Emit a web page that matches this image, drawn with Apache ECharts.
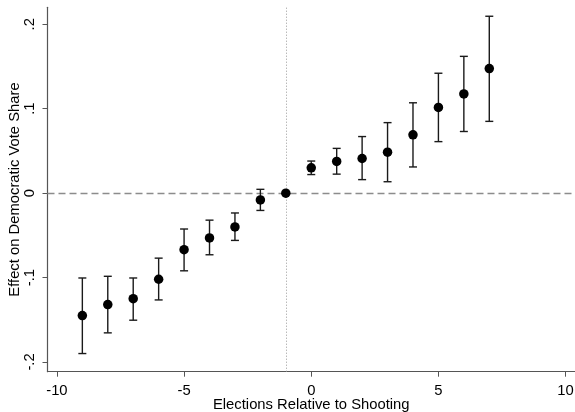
<!DOCTYPE html>
<html>
<head>
<meta charset="utf-8">
<script src="https://cdn.jsdelivr.net/npm/echarts@6/dist/echarts.min.js"></script>
<style>
html,body{margin:0;padding:0;background:#fff;}
#chart{width:575px;height:412px;}
</style>
</head>
<body>
<div id="chart"></div>
<script>
// Data
var elections = [-9, -8, -7, -6, -5, -4, -3, -2, -1, 0, 1, 2, 3, 4, 5, 6, 7];
var estimates = [-0.145, -0.132, -0.125, -0.102, -0.067, -0.053, -0.040, -0.008, 0.000, 0.030, 0.0375, 0.041, 0.0485, 0.069, 0.1015, 0.1175, 0.1475];
var ciLower  = [-0.190, -0.1655, -0.1505, -0.1265, -0.092, -0.073, -0.056, -0.0205, null, 0.022, 0.0225, 0.016, 0.0135, 0.031, 0.061, 0.073, 0.085];
var ciUpper  = [-0.1005, -0.0985, -0.1005, -0.077, -0.0425, -0.032, -0.0235, 0.0045, null, 0.038, 0.053, 0.067, 0.0835, 0.107, 0.142, 0.162, 0.2095];
var xTicks = [-10, -5, 0, 5, 10];
var yTicks = [-0.2, -0.1, 0, 0.1, 0.2];
var yTickLabels = ['-.2', '-.1', '0', '.1', '.2'];
var refX = -1;
var refY = 0;

var ciData = [];
for (var i = 0; i < elections.length; i++) {
  if (ciLower[i] !== null) ciData.push([elections[i], ciLower[i], ciUpper[i]]);
}
var pointData = elections.map(function (x, i) { return [x, estimates[i]]; });

var font = 'Liberation Sans, Arial, Helvetica, sans-serif';
var chart = echarts.init(document.getElementById('chart'), null, {renderer: 'canvas'});
chart.setOption({
  animation: false,
  backgroundColor: '#fff',
  grid: {left: 47.5, right: 0, top: 7.3, bottom: 40.3, containLabel: false, outerBoundsMode: 'none'},
  xAxis: {
    type: 'value',
    min: -10.37, max: 10.37,
    splitLine: {show: false},
    axisLine: {show: true, onZero: false, lineStyle: {color: '#555', width: 1.2}},
    axisTick: {show: true, length: 5, customValues: xTicks, lineStyle: {color: '#555', width: 1}},
    axisLabel: {customValues: xTicks, margin: 12, fontSize: 14.8, color: '#000', fontFamily: font,
      formatter: function (v) { return String(v); }},
    name: 'Elections Relative to Shooting',
    nameLocation: 'middle', nameGap: 26, nameMoveOverlap: false,
    nameTextStyle: {fontSize: 14.8, color: '#000', fontFamily: font}
  },
  yAxis: {
    type: 'value',
    min: -0.2115, max: 0.2201,
    splitLine: {show: false},
    axisLine: {show: true, onZero: false, lineStyle: {color: '#555', width: 1.2}},
    axisTick: {show: true, length: 5, customValues: yTicks, lineStyle: {color: '#555', width: 1}},
    axisLabel: {customValues: yTicks, rotate: 90, margin: 10, fontSize: 14.8, color: '#000', fontFamily: font,
      formatter: function (v) {
        var idx = yTicks.findIndex(function (t) { return Math.abs(t - v) < 1e-9; });
        return idx >= 0 ? yTickLabels[idx] : '';
      }},
    name: 'Effect on Democratic Vote Share',
    nameLocation: 'middle', nameGap: 25, nameRotate: 90, nameMoveOverlap: false,
    nameTextStyle: {fontSize: 14.8, color: '#000', fontFamily: font}
  },
  series: [
    {
      type: 'line', data: [], silent: true, z: 1,
      markLine: {
        symbol: 'none', silent: true, label: {show: false}, z: 1,
        data: [
          {yAxis: refY, lineStyle: {type: [7, 4], color: '#8c8c8c', width: 1.3}},
          {xAxis: refX, lineStyle: {type: [1, 2], color: '#999', width: 1}}
        ]
      }
    },
    {
      type: 'custom',
      data: ciData,
      renderItem: function (params, api) {
        var x = api.value(0);
        var lo = api.coord([x, api.value(1)]);
        var hi = api.coord([x, api.value(2)]);
        var hw = 4;
        var style = {stroke: '#1a1a1a', lineWidth: 1.4};
        return {
          type: 'group',
          children: [
            {type: 'line', shape: {x1: lo[0], y1: lo[1], x2: hi[0], y2: hi[1]}, style: style},
            {type: 'line', shape: {x1: lo[0] - hw, y1: lo[1], x2: lo[0] + hw, y2: lo[1]}, style: style},
            {type: 'line', shape: {x1: hi[0] - hw, y1: hi[1], x2: hi[0] + hw, y2: hi[1]}, style: style}
          ]
        };
      },
      z: 3
    },
    {
      type: 'scatter',
      data: pointData,
      symbol: 'circle',
      symbolSize: 9.5,
      itemStyle: {color: '#000', opacity: 1},
      emphasis: {disabled: true},
      z: 4
    }
  ]
});
</script>
</body>
</html>
